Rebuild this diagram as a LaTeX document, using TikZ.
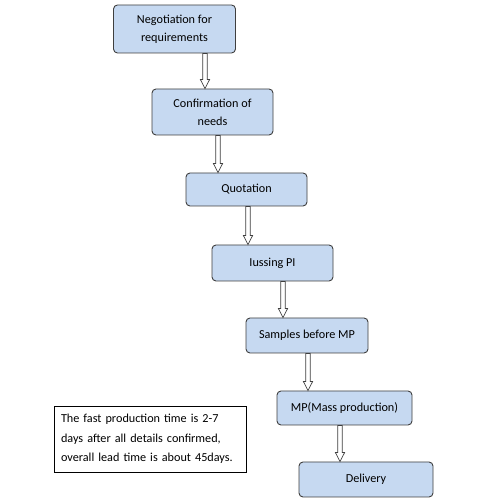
\documentclass[tikz,border=0pt]{standalone}
\usepackage{fontspec}
\setmainfont{Carlito}
\usetikzlibrary{calc}
\definecolor{boxfill}{HTML}{C6D9F1}
\definecolor{boxline}{HTML}{3F3F3F}
\tikzset{
  stepbox/.style={draw=boxline, line width=0.9pt, fill=boxfill, rounded corners=4pt,
    align=center, inner sep=0pt, font=\fontsize{12.2}{18}\selectfont},
  notebox/.style={draw=black, line width=0.9pt, fill=white, align=left, inner sep=0pt,
    font=\fontsize{12.2}{19.5}\selectfont},
  hollow/.style={draw=boxline, line width=0.7pt, fill=white},
}
% #1 from node, #2 to node, #3 x position
\newcommand{\hollowarrow}[3]{%
  \draw[hollow] let \p1=(#1.south), \p2=(#2.north) in
    (#3-2.2,\y1) -- (#3-2.2,\y2+9) -- (#3-4.6,\y2+9) -- (#3,\y2) --
    (#3+4.6,\y2+9) -- (#3+2.2,\y2+9) -- (#3+2.2,\y1) -- cycle;}
\begin{document}
\begin{tikzpicture}[x=1pt,y=1pt]
\useasboundingbox (0,0) rectangle (500,500);
\fill[white] (0,0) rectangle (500,500);
\node[stepbox, minimum width=122pt, minimum height=48pt] (n1) at (174.5,471) {Negotiation for\\requirements};
\node[stepbox, minimum width=121pt, minimum height=46pt] (n2) at (212.5,388) {Confirmation of\\needs};
\node[stepbox, minimum width=121pt, minimum height=33pt] (n3) at (246.5,310.5) {Quotation};
\node[stepbox, minimum width=121pt, minimum height=36pt] (n4) at (272.5,237) {Iussing PI};
\node[stepbox, minimum width=122pt, minimum height=35pt] (n5) at (307,164.5) {Samples before MP};
\node[stepbox, minimum width=135pt, minimum height=34pt] (n6) at (344.5,92) {MP(Mass production)};
\node[stepbox, minimum width=134pt, minimum height=35pt] (n7) at (366,20.5) {Delivery};
\node[notebox, minimum width=192pt, minimum height=66pt, text width=178pt] (note) at (150,61)
  {The fast production time is 2-7\\days after all details confirmed,\\overall lead time is about 45days.};
\hollowarrow{n1}{n2}{205}
\hollowarrow{n2}{n3}{218}
\hollowarrow{n3}{n4}{248}
\hollowarrow{n4}{n5}{283}
\hollowarrow{n5}{n6}{308}
\hollowarrow{n6}{n7}{340}
\end{tikzpicture}
\end{document}
